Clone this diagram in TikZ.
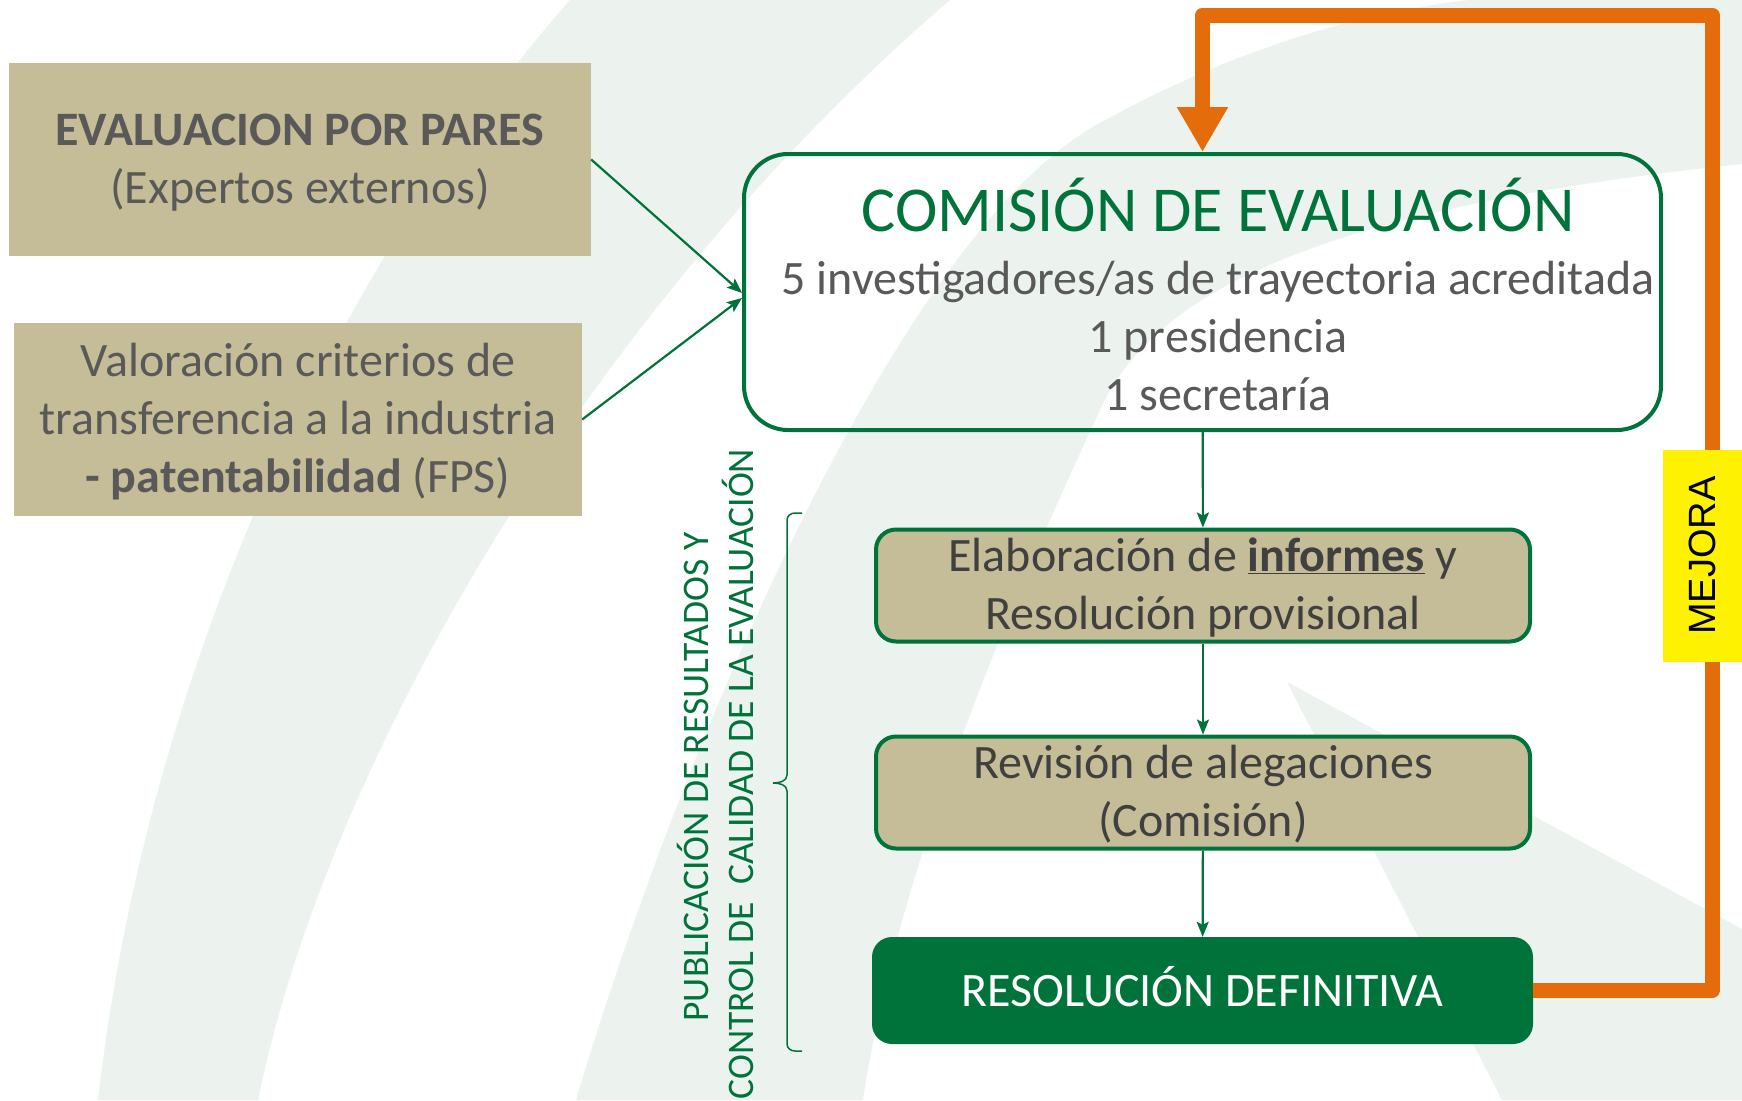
\documentclass[tikz,border=0pt]{standalone}
\usepackage{fontspec}
\setmainfont{Carlito}
\newfontfamily\arialfont{Liberation Sans}
\usetikzlibrary{arrows.meta, positioning, decorations.pathreplacing}

\definecolor{jagreen}{HTML}{00733A}
\definecolor{boxtan}{HTML}{C4BD97}
\definecolor{fondo}{HTML}{ECF3EE}
\definecolor{naranja}{HTML}{E46C0A}
\definecolor{txtgray}{HTML}{595959}
\definecolor{txtdark}{HTML}{404040}

% struts so that every box centres its lines the same way
\newcommand{\arriba}{\rule{0pt}{42pt}}
\newcommand{\abajo}{\rule[-12pt]{0pt}{12pt}}

\tikzset{
  parbox/.style={fill=boxtan, text=txtgray, align=center, inner sep=0pt, minimum height=193pt, font=\fontsize{48}{58}\selectfont},
  comisionbox/.style={draw=jagreen, line width=4pt, rounded corners=44pt, minimum width=917pt, minimum height=276pt},
  etapa/.style={draw=jagreen, fill=boxtan, line width=4pt, rounded corners=20pt, text=txtdark, align=center, minimum width=654pt, minimum height=111pt, inner sep=0pt, font=\fontsize{48}{58}\selectfont},
  final/.style={fill=jagreen, rounded corners=20pt, text=white, minimum width=661pt, minimum height=107pt, inner sep=0pt, text height=31pt, text depth=0pt, font=\fontsize{48}{58}\selectfont},
  flecha/.style={draw=jagreen, line width=2.2pt, -{Stealth[length=15pt, width=12pt, inset=3pt]}},
  lazo/.style={draw=naranja, line width=15pt, line join=round, -{Triangle[length=45pt, width=48pt]}},
  rotulo/.style={rotate=90, text=jagreen, inner sep=0pt, font=\fontsize{37.5}{37.5}\selectfont},
  llave/.style={draw=jagreen, line width=1.5pt}
}

\begin{document}
\begin{tikzpicture}[x=1pt, y=-1pt]
% fondo
\useasboundingbox (0,0) rectangle (1742,1100);
\fill[white] (0,0) rectangle (1742,1100);
\begin{scope}
  \clip (0,0) rectangle (1742,1100);
  \fill[fondo] (570,0) .. controls (350,250) and (150,650) .. (98,1100) -- (258,1100) .. controls (330,750) and (600,300) .. (950,0) -- cycle;
  \fill[fondo] (576,1100) .. controls (680,750) and (900,230) .. (1100,123) .. controls (1250,40) and (1380,10) .. (1469,0) -- (1742,0) -- (1742,164) .. controls (1300,210) and (1150,300) .. (1100,410) .. controls (1030,560) and (900,850) .. (863,1100) -- cycle;
  \fill[fondo] (1287,682) -- (1742,929) -- (1742,1100) -- (1502,1100) -- cycle;
\end{scope}

% cajas de entrada
\node[parbox, minimum width=582pt] (pares) at (300,159.5) {\arriba\textbf{EVALUACION POR PARES}\\(Expertos externos)\abajo};
\node[parbox, minimum width=568pt] (fps) at (298,419.5) {\arriba Valoración criterios de\\transferencia a la industria\\\textbf{- patentabilidad} (FPS)\abajo};

% comision
\node[comisionbox] (comision) at (1202.5,292) {};
\node[anchor=base, text=jagreen, font=\fontsize{64}{64}\selectfont] (titulo) at (1218,231) {COMISIÓN DE EVALUACIÓN};
\node[align=center, text=txtgray, inner sep=0pt, font=\fontsize{48}{58}\selectfont] (miembros) at (1218,336) {5 investigadores/as de trayectoria acreditada\\1 presidencia\\1 secretaría};

% etapas
\node[etapa] (informes) at (1203,585.5) {\arriba Elaboración de \underline{\textbf{informes}} y\\Resolución provisional\abajo};
\node[etapa] (alegaciones) at (1203,792.5) {\arriba Revisión de alegaciones\\(Comisión)\abajo};
\node[final] (definitiva) at (1202.5,990.5) {RESOLUCIÓN DEFINITIVA};

\draw[flecha] (pares.east) -- ([yshift=-1pt]comision.west);
\draw[flecha] (fps.east) -- ([yshift=-6pt]comision.west);
\draw[flecha] (comision) -- (informes);
\draw[flecha] (informes) -- (alegaciones);
\draw[flecha] (alegaciones) -- (definitiva);

% publicacion y control
\draw[llave] (802,513) -- (795,513) to[out=180, in=90] (787,520) -- (787,775)
  to[out=-90, in=0] (773,783) to[out=0, in=90] (787,791) -- (787,1044)
  to[out=-90, in=180] (795,1051) -- (802,1051);
\node[rotulo, anchor=base] (publicacion) at (708,777) {PUBLICACIÓN DE RESULTADOS Y};
\node[rotulo, anchor=base] (control) at (753,774) {CONTROL DE\ \ CALIDAD DE LA EVALUACIÓN};

% mejora
\coordinate (esquina) at (1712,15);
\draw[lazo] (definitiva.east) -| (esquina) -| (comision.north);
\node[rotate=90, fill=yellow, minimum width=212pt, minimum height=79pt, inner sep=0pt, font=\arialfont\fontsize{38}{38}\selectfont] (mejora) at (1702.5,555.5) {MEJORA};
\end{tikzpicture}
\end{document}
